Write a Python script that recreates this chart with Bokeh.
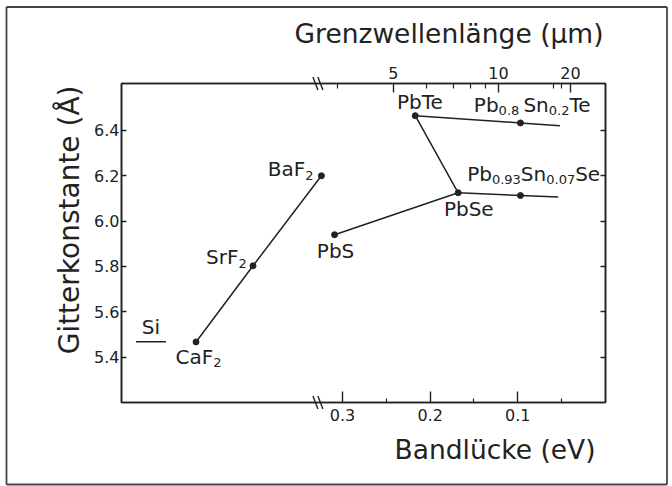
from bokeh.plotting import figure
from bokeh.models import Range1d, LinearAxis, FixedTicker, Title, ColumnDataSource
from bokeh.embed import file_html
from bokeh.resources import INLINE
from bokeh.core.properties import value

# ---------------- data ----------------
# Fluorides sit on the compressed part of the band-gap axis (left of the break)
fluoride_names = ["CaF", "SrF", "BaF"]
fluoride_gap = [0.467, 0.402, 0.324]
fluoride_lattice = [5.467, 5.803, 6.200]

# Lead chalcogenides: band gap (eV), lattice constant (Å)
pb_names = ["PbS", "PbSe", "PbTe"]
pb_gap = [0.309, 0.168, 0.217]
pb_lattice = [5.940, 6.125, 6.465]

# Pb1-xSnxTe branch: PbTe -> Pb0.8Sn0.2Te -> end of line
te_branch_gap = [0.217, 0.097, 0.052]
te_branch_lattice = [6.465, 6.433, 6.421]

# Pb1-xSnxSe branch: PbSe -> Pb0.93Sn0.07Se -> end of line
se_branch_gap = [0.168, 0.097, 0.054]
se_branch_lattice = [6.125, 6.113, 6.106]

# Si marker (short horizontal bar)
si_gap = [0.5355, 0.5013]
si_lattice = [5.468, 5.468]

# axes
gap_ticks = [0.3, 0.2, 0.1]
gap_tick_labels = ["0.3", "0.2", "0.1"]
gap_minor_ticks = [0.25, 0.15, 0.05]
lattice_ticks = [5.4, 5.6, 5.8, 6.0, 6.2, 6.4]
lattice_tick_labels = ["5.4", "5.6", "5.8", "6.0", "6.2", "6.4"]
# top axis: cut-off wavelength (µm), tick positions as drawn on the gap scale
wl_tick_pos = [0.242, 0.122, 0.040]
wl_tick_labels = ["5", "10", "20"]
wl_minor_pos = [0.306, 0.204, 0.173, 0.154, 0.137, 0.059, 0.050]
axis_break = 0.328

# ---------------- style / layout ----------------
INK = "#222222"
FONT = "DejaVu Sans"
MAIN = 20
SUB = 13
BASE_FIX = -8.5

W_FIG, H_FIG = 672, 486
B_LEFT, B_RIGHT, B_TOP, B_BOTTOM = 121, 67, 83, 84
FRAME_W = W_FIG - B_LEFT - B_RIGHT
FRAME_H = H_FIG - B_TOP - B_BOTTOM

X0, X1 = 0.552, 0.0
Y0, Y1 = 5.2, 6.607
px_x = (X0 - X1) / FRAME_W
px_y = (Y1 - Y0) / FRAME_H


def data_x(sx):
    return X0 - (sx - B_LEFT) * px_x


def data_y(sy):
    return Y1 - (sy - B_TOP) * px_y


p = figure(width=W_FIG, height=H_FIG, output_backend="svg", toolbar_location=None,
           x_range=Range1d(X0, X1), y_range=Range1d(Y0, Y1),
           min_border_left=B_LEFT, min_border_right=B_RIGHT,
           min_border_top=B_TOP, min_border_bottom=B_BOTTOM,
           background_fill_color="white", border_fill_color="white")
p.grid.grid_line_color = None
p.outline_line_color = INK
p.outline_line_width = 1.5


def style_axis(ax, tick_in, minor_in, standoff, size="16px"):
    ax.axis_line_color = INK
    ax.axis_line_width = 1.6
    ax.major_tick_line_color = INK
    ax.major_tick_line_width = 1.4
    ax.minor_tick_line_color = INK
    ax.minor_tick_line_width = 1.2
    ax.major_tick_in = tick_in
    ax.major_tick_out = 0
    ax.minor_tick_in = minor_in
    ax.minor_tick_out = 0
    ax.major_label_standoff = standoff
    ax.major_label_text_font = FONT
    ax.major_label_text_font_size = size
    ax.major_label_text_color = INK


xa = p.xaxis[0]
xa.ticker = FixedTicker(ticks=gap_ticks, minor_ticks=gap_minor_ticks)
xa.major_label_overrides = dict(zip(gap_ticks, gap_tick_labels))
style_axis(xa, 11, 4, 6)

ya = p.yaxis[0]
ya.ticker = FixedTicker(ticks=lattice_ticks, minor_ticks=[])
ya.major_label_overrides = dict(zip(lattice_ticks, lattice_tick_labels))
style_axis(ya, 5, 0, 2)

top = LinearAxis(ticker=FixedTicker(ticks=wl_tick_pos, minor_ticks=wl_minor_pos),
                 major_label_overrides=dict(zip(wl_tick_pos, wl_tick_labels)))
style_axis(top, 9, 5, 5)
p.add_layout(top, "above")

right = LinearAxis(ticker=FixedTicker(ticks=lattice_ticks, minor_ticks=[]),
                   major_label_overrides={t: "" for t in lattice_ticks})
style_axis(right, 5, 0, 0)
p.add_layout(right, "right")

p.add_layout(Title(text="Grenzwellenlänge (µm)", align="right", offset=2, standoff=30,
                   text_font=FONT, text_font_size="26.5px", text_font_style="normal",
                   text_color=INK), "above")
p.add_layout(Title(text="Bandlücke (eV)", align="right", offset=10, standoff=16,
                   text_font=FONT, text_font_size="26.5px", text_font_style="normal",
                   text_color=INK), "below")
p.add_layout(Title(text="Gitterkonstante (Å)", align="right", offset=2, standoff=12,
                   text_font=FONT, text_font_size="28px", text_font_style="normal",
                   text_color=INK), "left")

# ---------------- axis break marks and outer scan frame (drawn unclipped) ----------------
seg = dict(x0=[], y0=[], x1=[], y1=[])
for yb in (Y0, Y1):
    for sep in (2.5, -2.5):
        seg["x0"].append(axis_break + (sep + 2.5) * px_x)
        seg["y0"].append(yb + 6.5 * px_y)
        seg["x1"].append(axis_break + (sep - 2.5) * px_x)
        seg["y1"].append(yb - 6.5 * px_y)
p.segment(x0="x0", y0="y0", x1="x1", y1="y1", source=ColumnDataSource(seg),
          line_color=INK, line_width=1.4, level="overlay")

bl, br, bt, bb = data_x(6), data_x(666.5), data_y(6.5), data_y(484)
p.segment(x0=[bl, br, br, bl], y0=[bt, bt, bb, bb], x1=[br, br, bl, bl], y1=[bt, bb, bb, bt],
          line_color="#444444", line_width=1.8, level="overlay")

# ---------------- lines and points ----------------
LW = 1.5
p.line(fluoride_gap, fluoride_lattice, line_color=INK, line_width=LW)
p.line(pb_gap, pb_lattice, line_color=INK, line_width=LW)
p.line(te_branch_gap, te_branch_lattice, line_color=INK, line_width=LW)
p.line(se_branch_gap, se_branch_lattice, line_color=INK, line_width=LW)
p.line(si_gap, si_lattice, line_color=INK, line_width=LW)

pts_x = fluoride_gap + pb_gap + [te_branch_gap[1], se_branch_gap[1]]
pts_y = fluoride_lattice + pb_lattice + [te_branch_lattice[1], se_branch_lattice[1]]
p.scatter(pts_x, pts_y, size=6, color=INK)

# ---------------- labels with subscripts ----------------
W = {"0": .636, "1": .636, "2": .636, "3": .636, "4": .636, "5": .636, "6": .636,
     "7": .636, "8": .636, "9": .636, ".": .318, " ": .318, "P": .603, "b": .635,
     "T": .611, "e": .615, "S": .635, "n": .634, "a": .613, "F": .575, "B": .686,
     "r": .411, "C": .698, "i": .278, "s": .521}


def tw(s, size):
    return sum(W.get(c, 0.6) for c in s) * size


label_specs = [
    (fluoride_gap[0], fluoride_lattice[0], -20.6, 23.3, [(fluoride_names[0], 0), ("2", 1)]),
    (fluoride_gap[1], fluoride_lattice[1], -47.0, 0.0, [(fluoride_names[1], 0), ("2", 1)]),
    (fluoride_gap[2], fluoride_lattice[2], -53.7, 2.0, [(fluoride_names[2], 0), ("2", 1)]),
    (pb_gap[0], pb_lattice[0], -17.7, 25.0, [(pb_names[0], 0)]),
    (pb_gap[1], pb_lattice[1], -14.3, 24.4, [(pb_names[1], 0)]),
    (pb_gap[2], pb_lattice[2], -18.3, -5.0, [(pb_names[2], 0)]),
    (te_branch_gap[1], te_branch_lattice[1], -46.6, -9.7,
     [("Pb", 0), ("0.8 ", 1), ("Sn", 0), ("0.2", 1), ("Te", 0)]),
    (se_branch_gap[1], se_branch_lattice[1], -53.3, -13.3,
     [("Pb", 0), ("0.93", 1), ("Sn", 0), ("0.07", 1), ("Se", 0)]),
    (sum(si_gap) / 2, si_lattice[0], -tw("Si", MAIN) / 2, -6.7, [("Si", 0)]),
]

main = dict(x=[], y=[], t=[], xo=[], yo=[])
sub = dict(x=[], y=[], t=[], xo=[], yo=[])
for ax_, ay_, dx, dy, pieces in label_specs:
    cur = dx
    for txt, is_sub in pieces:
        d = sub if is_sub else main
        size = SUB if is_sub else MAIN
        d["x"].append(ax_)
        d["y"].append(ay_)
        d["t"].append(txt.strip())
        d["xo"].append(cur)
        d["yo"].append(dy + BASE_FIX + (6 if is_sub else 0))
        cur += tw(txt, size)

p.text(x="x", y="y", text="t", x_offset="xo", y_offset="yo", source=ColumnDataSource(main),
       text_font=value(FONT), text_font_size=f"{MAIN}px", text_color=INK,
       text_align="left", text_baseline="alphabetic")
p.text(x="x", y="y", text="t", x_offset="xo", y_offset="yo", source=ColumnDataSource(sub),
       text_font=value(FONT), text_font_size=f"{SUB}px", text_color=INK,
       text_align="left", text_baseline="alphabetic")

open("out.html", "w").write(file_html(p, INLINE))
